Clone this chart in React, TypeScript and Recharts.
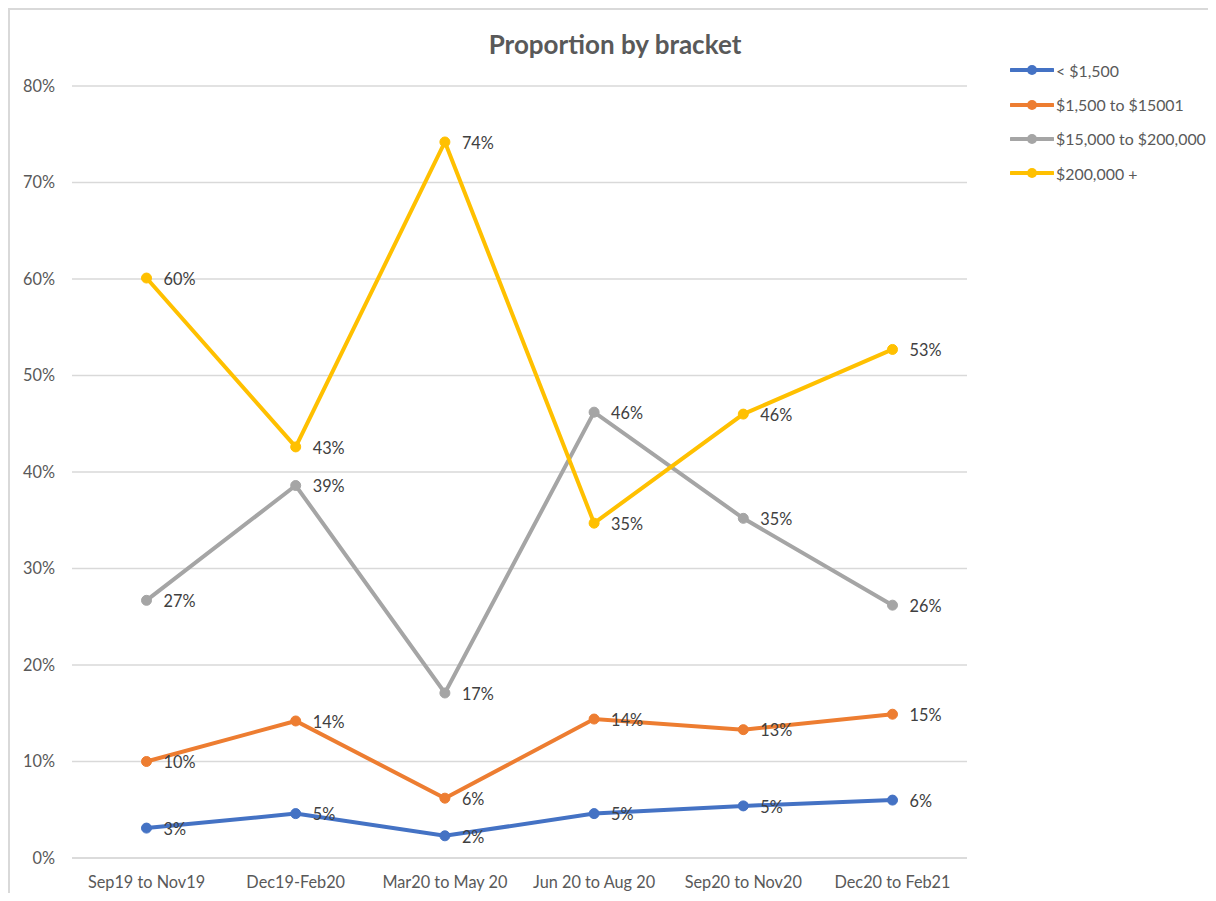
import React from "react";
import { LineChart, Line, XAxis, YAxis, CartesianGrid, LabelList } from "recharts";

const periods = [
  "Sep19 to Nov19",
  "Dec19-Feb20",
  "Mar20 to May 20",
  "Jun 20 to Aug 20",
  "Sep20 to Nov20",
  "Dec20 to Feb21",
];

const under1500 = [3.1, 4.6, 2.3, 4.6, 5.4, 6.0];
const from1500 = [10.0, 14.2, 6.2, 14.4, 13.3, 14.9];
const from15000 = [26.7, 38.6, 17.1, 46.2, 35.2, 26.2];
const over200000 = [60.1, 42.6, 74.2, 34.7, 46.0, 52.7];

const yTicks = [0, 10, 20, 30, 40, 50, 60, 70, 80];

const series = [
  { key: "a", name: "< $1,500", color: "#4472C4", values: under1500 },
  { key: "b", name: "$1,500 to $15001", color: "#ED7D31", values: from1500 },
  { key: "c", name: "$15,000 to $200,000", color: "#A5A5A5", values: from15000 },
  { key: "d", name: "$200,000 +", color: "#FFC000", values: over200000 },
];

const data = periods.map((p, i) => {
  const row: any = { period: p };
  series.forEach((s) => (row[s.key] = s.values[i]));
  return row;
});

const FONT = "Lato, 'Open Sans', sans-serif";
const FS = 16.3;

const renderLabel = (props: any) => {
  const { x, y, value } = props;
  return (
    <text x={x + 17} y={y + 1} dy="0.35em" fontSize={FS} fill="#404040" fontFamily={FONT}>
      {Math.round(value)}%
    </text>
  );
};

export default function App() {
  return (
    <div
      style={{
        position: "relative",
        width: 1206,
        height: 883,
        borderLeft: "2px solid #d9d9d9",
        borderTop: "2px solid #d9d9d9",
        background: "#fff",
        fontFamily: FONT,
      }}
    >
      <div
        style={{
          position: "absolute",
          left: 0,
          width: 1210,
          top: 18,
          textAlign: "center",
          fontSize: 26,
          fontWeight: 700,
          color: "#595959",
        }}
      >
        Proportion by bracket
      </div>
      <div style={{ position: "absolute", left: 1000, top: 43, width: 206 }}>
        {series.map((s) => (
          <div key={s.key} style={{ display: "flex", alignItems: "center", height: 34.4, whiteSpace: "nowrap" }}>
            <svg width={44} height={12} style={{ flexShrink: 0 }}>
              <line x1={1} y1={6} x2={43} y2={6} stroke={s.color} strokeWidth={4} strokeLinecap="round" />
              <circle cx={22} cy={6} r={5} fill={s.color} />
            </svg>
            <span style={{ fontSize: 15.9, color: "#595959", marginLeft: 2 }}>{s.name}</span>
          </div>
        ))}
      </div>
      <LineChart
        width={1206}
        height={883}
        data={data}
        margin={{ top: 76, right: 249, bottom: 5, left: 12 }}
      >
        <CartesianGrid vertical={false} stroke="#d9d9d9" strokeWidth={1.5} />
        <XAxis
          dataKey="period"
          padding={{ left: 74.5, right: 74.5 }}
          axisLine={{ stroke: "#d9d9d9", strokeWidth: 1.5 }}
          tickLine={false}
          tickMargin={12}
          height={30}
          interval={0}
          tick={{ fontSize: FS, fill: "#595959", fontFamily: FONT }}
        />
        <YAxis
          domain={[0, 80]}
          ticks={yTicks}
          width={50}
          axisLine={false}
          tickLine={false}
          tickMargin={11}
          tickFormatter={(v: number) => `${v}%`}
          tick={{ fontSize: FS, fill: "#595959", fontFamily: FONT }}
        />
        {series.map((s) => (
          <Line
            key={s.key}
            dataKey={s.key}
            name={s.name}
            stroke={s.color}
            strokeWidth={4}
            dot={{ r: 5, fill: s.color, stroke: s.color, strokeWidth: 1 }}
            activeDot={false}
            isAnimationActive={false}
            type="linear"
          >
            <LabelList dataKey={s.key} content={renderLabel} />
          </Line>
        ))}
      </LineChart>
    </div>
  );
}
